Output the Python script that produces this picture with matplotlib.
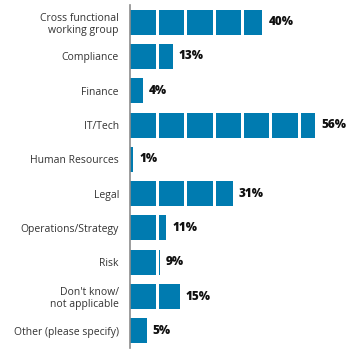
import matplotlib
matplotlib.use("Agg")
from matplotlib import pyplot as plt

# ------------------------------------------------------------------------------
# Data
# ------------------------------------------------------------------------------
categories = ["Cross functional\nworking group", "Compliance", "Finance", "IT/Tech",
              "Human Resources", "Legal", "Operations/Strategy", "Risk",
              "Don't know/\nnot applicable", "Other (please specify)"]
values = [40, 13, 4, 56, 1, 31, 11, 9, 15, 5]
valueLabels = ["40%", "13%", "4%", "56%", "1%", "31%", "11%", "9%", "15%", "5%"]

barColor = "#007BB0"
segPeriod = 8.57
gapWidth = 0.9
barHeight = 0.73

plt.rcParams['font.family'] = ['Open Sans', 'DejaVu Sans']

# ------------------------------------------------------------------------------
# Plot
# ------------------------------------------------------------------------------
fig = plt.figure(figsize=(3.55, 3.55), dpi=100)
ax = fig.add_axes([130 / 355, 7 / 355, 225 / 355, 343 / 355])

ypos = list(range(len(categories)))
ax.barh(ypos, values, height=barHeight, color=barColor, zorder=2)

# white gaps that split each bar into blocks
for i, v in enumerate(values):
    k = 1
    while k * segPeriod < v - 0.1:
        ax.barh(i, gapWidth, left=k * segPeriod - gapWidth / 2 - 0.3, height=barHeight + 0.02,
                color="white", zorder=3)
        k += 1

for i, v in enumerate(values):
    ax.text(v + 1.8, i, valueLabels[i], va="center", ha="left", fontsize=8.5,
            fontweight="heavy", color="#111111")

ax.set_xlim(0, 68)
ax.set_ylim(len(categories) - 0.5, -0.5)
ax.set_yticks(ypos)
ax.set_yticklabels(categories, fontsize=7.5, color="#333333", linespacing=1.15)
ax.tick_params(axis="y", length=0, pad=8)
ax.set_xticks([])
for s in ["top", "right", "bottom"]:
    ax.spines[s].set_visible(False)
ax.spines["left"].set_color("#8c8c8c")
ax.spines["left"].set_linewidth(1.2)

fig.savefig("out.png", dpi=100)
